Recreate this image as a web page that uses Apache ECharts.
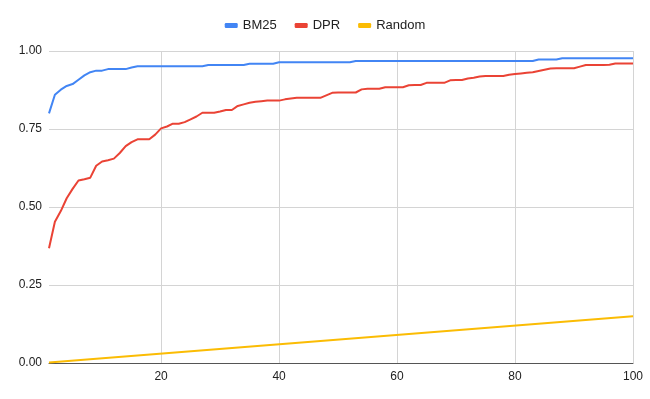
<!DOCTYPE html>
<html>
<head>
<meta charset="utf-8">
<script src="https://cdn.jsdelivr.net/npm/echarts@6/dist/echarts.min.js"></script>
<style>
  html, body { margin: 0; padding: 0; background: #fff; }
  #main { width: 650px; height: 399px; }
</style>
</head>
<body>
<div id="main"></div>
<script>
// x positions 1..100 (top-k)
var kValues = [];
for (var k = 1; k <= 100; k++) kValues.push(k);

var bm25 = [
  0.800, 0.860, 0.876, 0.888, 0.894, 0.908, 0.922, 0.932, 0.937, 0.937,
  0.942, 0.942, 0.942, 0.942, 0.947, 0.951, 0.951, 0.951, 0.951, 0.951,
  0.951, 0.951, 0.951, 0.951, 0.951, 0.951, 0.951, 0.955, 0.955, 0.955,
  0.955, 0.955, 0.955, 0.955, 0.959, 0.959, 0.959, 0.959, 0.959, 0.964,
  0.964, 0.964, 0.964, 0.964, 0.964, 0.964, 0.964, 0.964, 0.964, 0.964,
  0.964, 0.964, 0.968, 0.968, 0.968, 0.968, 0.968, 0.968, 0.968, 0.968,
  0.968, 0.968, 0.968, 0.968, 0.968, 0.968, 0.968, 0.968, 0.968, 0.968,
  0.968, 0.968, 0.968, 0.968, 0.968, 0.968, 0.968, 0.968, 0.968, 0.968,
  0.968, 0.968, 0.968, 0.973, 0.973, 0.973, 0.973, 0.977, 0.977, 0.977,
  0.977, 0.977, 0.977, 0.977, 0.977, 0.977, 0.977, 0.977, 0.977, 0.977
];

var dpr = [
  0.368, 0.453, 0.487, 0.528, 0.558, 0.585, 0.589, 0.594, 0.632, 0.646,
  0.650, 0.655, 0.673, 0.695, 0.708, 0.717, 0.717, 0.717, 0.732, 0.752,
  0.758, 0.767, 0.767, 0.772, 0.781, 0.790, 0.802, 0.802, 0.802, 0.806,
  0.811, 0.811, 0.824, 0.829, 0.834, 0.837, 0.839, 0.841, 0.841, 0.841,
  0.845, 0.848, 0.850, 0.850, 0.850, 0.850, 0.850, 0.858, 0.866, 0.867,
  0.867, 0.867, 0.867, 0.877, 0.879, 0.879, 0.879, 0.884, 0.884, 0.884,
  0.884, 0.890, 0.891, 0.891, 0.898, 0.898, 0.898, 0.898, 0.906, 0.907,
  0.907, 0.912, 0.914, 0.918, 0.920, 0.920, 0.920, 0.920, 0.924, 0.926,
  0.928, 0.930, 0.932, 0.936, 0.940, 0.944, 0.945, 0.945, 0.945, 0.945,
  0.950, 0.955, 0.955, 0.955, 0.955, 0.956, 0.960, 0.960, 0.960, 0.960
];

// random baseline is a straight line
var randomX = [1, 100];
var randomY = [0.0015, 0.15];

var xTicks = [20, 40, 60, 80, 100];

function pairs(xs, ys) {
  var out = [];
  for (var i = 0; i < ys.length; i++) out.push([xs[i], ys[i]]);
  return out;
}

var myChart = echarts.init(document.getElementById('main'));
var font = '"Liberation Sans", Arial, sans-serif';

var option = {
  animation: false,
  legend: {
    top: 14,
    left: 'center',
    itemWidth: 13,
    itemHeight: 5,
    itemGap: 18,
    icon: 'roundRect',
    textStyle: { fontFamily: font, fontSize: 13, color: '#222' },
    data: ['BM25', 'DPR', 'Random']
  },
  grid: { left: 49, right: 17, top: 51, bottom: 36 },
  xAxis: {
    type: 'value',
    min: 1,
    max: 100,
    axisLine: { lineStyle: { color: '#555', width: 1 } },
    axisTick: { show: false, customValues: xTicks },
    axisLabel: { customValues: xTicks, color: '#222', fontFamily: font, fontSize: 12, margin: 8 },
    splitLine: { show: true, customValues: xTicks, lineStyle: { color: '#d4d4d4' } }
  },
  yAxis: {
    type: 'value',
    min: 0,
    max: 1,
    interval: 0.25,
    axisLine: { show: false },
    axisTick: { show: false },
    axisLabel: {
      color: '#222', fontFamily: font, fontSize: 12, margin: 7,
      padding: [3, 0, 0, 0],
      formatter: function (v) { return v.toFixed(2); }
    },
    splitLine: { lineStyle: { color: '#d4d4d4' } }
  },
  series: [
    { name: 'BM25', type: 'line', data: pairs(kValues, bm25), showSymbol: false,
      itemStyle: { color: '#4285F4' }, lineStyle: { width: 2 } },
    { name: 'DPR', type: 'line', data: pairs(kValues, dpr), showSymbol: false,
      itemStyle: { color: '#EA4335' }, lineStyle: { width: 2 } },
    { name: 'Random', type: 'line', data: pairs(randomX, randomY), showSymbol: false,
      itemStyle: { color: '#FBBC04' }, lineStyle: { width: 2 } }
  ]
};

myChart.setOption(option);
</script>
</body>
</html>
